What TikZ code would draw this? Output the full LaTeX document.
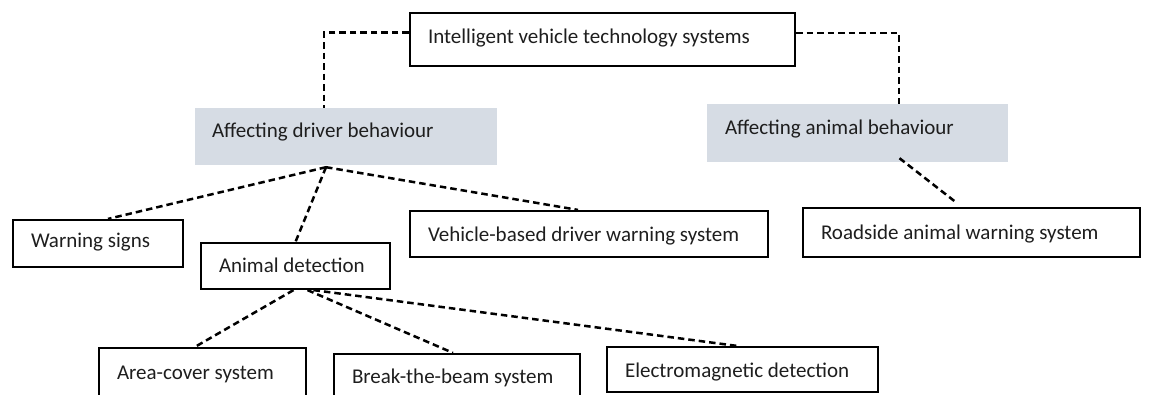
\documentclass[tikz,border=0pt]{standalone}
\usepackage{fontspec}
\setmainfont{Carlito}
\definecolor{graybg}{RGB}{214,220,228}
\definecolor{txtc}{RGB}{30,30,30}
\newcommand{\lbox}[2]{\makebox[#1][l]{#2}}
\begin{document}
\begin{tikzpicture}[x=1pt,y=-1pt,
  txt/.style={font=\fontsize{21}{25}\selectfont, text=txtc, inner ysep=0pt},
  box/.style={txt, draw=black, line width=2.2pt, inner xsep=18pt},
  gbox/.style={txt, fill=graybg, inner xsep=17pt},
  sz/.style n args={4}{minimum width=#1, minimum height=#2, text height=#3, text depth=#4},
  conn/.style={draw=black, line width=2.5pt, dash pattern=on 6.5pt off 4pt}
]
\useasboundingbox (0,0) rectangle (1152,394);
\clip (0,0) rectangle (1152,394);
\fill[white] (0,0) rectangle (1152,394);

\node[box, sz={385pt}{53pt}{13.5pt}{6.5pt}] (top) at (602.5,39.5) {\lbox{349pt}{Intelligent vehicle technology systems}};
\node[gbox, sz={302pt}{57pt}{10.5pt}{9.5pt}] (drv) at (346,136.5) {\lbox{268pt}{Affecting driver behaviour}};
\node[gbox, inner xsep=18pt, sz={301pt}{58pt}{11.3pt}{8.7pt}] (ani) at (857.5,133) {\lbox{265pt}{Affecting animal behaviour}};
\node[box, sz={170pt}{47pt}{13.5pt}{6.5pt}] (ws) at (98,243.5) {\lbox{134pt}{Warning signs}};
\node[box, sz={189pt}{46pt}{16pt}{4pt}] (ad) at (295.5,266) {\lbox{153pt}{Animal detection}};
\node[box, sz={358pt}{46pt}{17.8pt}{2.2pt}] (vb) at (589,234) {\lbox{322pt}{Vehicle-based driver warning system}};
\node[box, sz={337pt}{49pt}{16.8pt}{3.2pt}] (rs) at (971.5,232.5) {\lbox{301pt}{Roadside animal warning system}};
\node[box, sz={207pt}{48pt}{17pt}{3pt}] (ac) at (202.5,372) {\lbox{171pt}{Area-cover system}};
\node[box, sz={246pt}{48pt}{15.5pt}{4.5pt}] (bb) at (457,378) {\lbox{210pt}{Break-the-beam system}};
\node[box, sz={271pt}{45pt}{17.5pt}{2.5pt}] (em) at (742.5,369.5) {\lbox{235pt}{Electromagnetic detection}};

% top level connectors
\draw[conn] ([yshift=7pt]top.west) -| ([xshift=-22pt]drv.north);
\draw[conn] ([yshift=6.5pt]top.east) -| ([xshift=41.5pt]ani.north);

% driver behaviour branches
\coordinate (dsrc) at ([xshift=-20pt,yshift=-2pt]drv.south);
\draw[conn] (dsrc) -- ([xshift=10pt]ws.north);
\draw[conn] (dsrc) -- (ad.north);
\draw[conn] (dsrc) -- ([xshift=-11pt]vb.north);

% animal behaviour branch
\draw[conn] ([xshift=42pt,yshift=4pt]ani.south) -- ([xshift=-16pt,yshift=5pt]rs.north);

% animal detection branches
\draw[conn] ([xshift=-2pt]ad.south) -- ([xshift=-7.5pt]ac.north);
\draw[conn] ([xshift=12pt]ad.south) -- ([xshift=-4pt]bb.north);
\draw[conn] ([xshift=18pt]ad.south) -- ([xshift=-5.5pt]em.north);
\end{tikzpicture}
\end{document}
